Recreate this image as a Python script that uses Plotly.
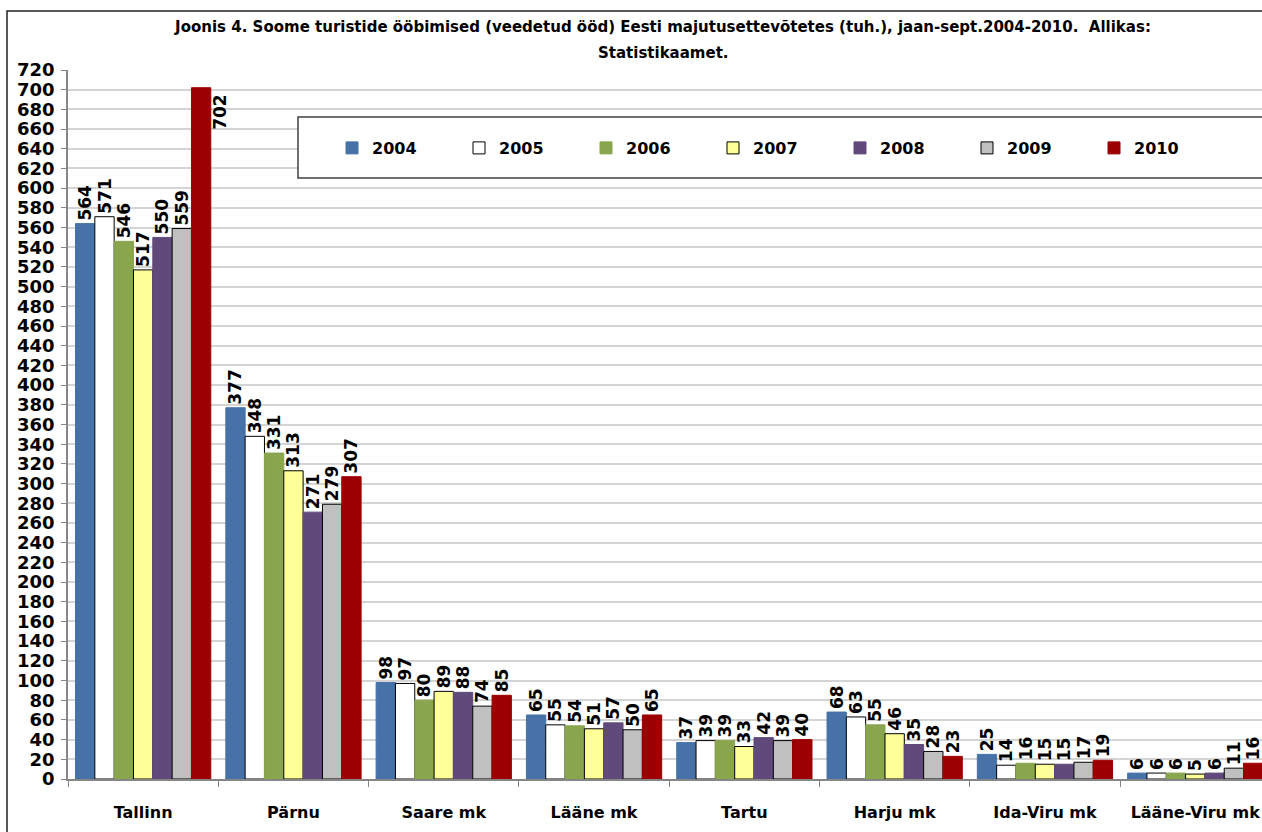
import plotly.graph_objects as go

categories = ["Tallinn", "Pärnu", "Saare mk", "Lääne mk", "Tartu", "Harju mk", "Ida-Viru mk", "Lääne-Viru mk"]
years = ["2004", "2005", "2006", "2007", "2008", "2009", "2010"]

v2004 = [564, 377, 98, 65, 37, 68, 25, 6]
v2005 = [571, 348, 97, 55, 39, 63, 14, 6]
v2006 = [546, 331, 80, 54, 39, 55, 16, 6]
v2007 = [517, 313, 89, 51, 33, 46, 15, 5]
v2008 = [550, 271, 88, 57, 42, 35, 15, 6]
v2009 = [559, 279, 74, 50, 39, 28, 17, 11]
v2010 = [702, 307, 85, 65, 40, 23, 19, 16]
series = [v2004, v2005, v2006, v2007, v2008, v2009, v2010]

fill_colors = ["#4672A8", "#FFFFFF", "#89A54E", "#FFFF99", "#604A7B", "#C0C0C0", "#9C0000"]
line_colors = ["#4672A8", "#000000", "#89A54E", "#000000", "#604A7B", "#000000", "#9C0000"]

title_line1 = "Joonis 4. Soome turistide ööbimised (veedetud ööd) Eesti majutusettevõtetes (tuh.), jaan-sept.2004-2010.  Allikas:"
title_line2 = "Statistikaamet."

FONT = "DejaVu Sans"
Y_MAX = 720

fig = go.Figure()
annotations = []
for yr, vals, fc, lc in zip(years, series, fill_colors, line_colors):
    positions = []
    for cat, v in zip(categories, vals):
        if v > Y_MAX - 30:
            positions.append("none")
            annotations.append(dict(
                x=cat, y=v, xref="x", yref="y", text=str(v), showarrow=False,
                textangle=-90, xanchor="center", yanchor="middle",
                xshift=77, yshift=-24,
                font=dict(family=FONT, size=17, color="black", weight="bold")))
        else:
            positions.append("outside")
    fig.add_trace(go.Bar(
        name=yr, x=categories, y=vals,
        marker=dict(color=fc, line=dict(color=lc, width=1)),
        text=[str(v) for v in vals], textposition=positions, textangle=-90,
        textfont=dict(family=FONT, size=17, color="black", weight="bold"),
        constraintext="none", cliponaxis=False,
    ))

annotations.append(dict(
    text=title_line2, xref="paper", yref="paper",
    x=(663 - 68) / 1194, y=(779 - 53) / 709, xanchor="center", yanchor="middle",
    showarrow=False, font=dict(family=FONT, size=15, color="black", weight="bold")))

fig.update_layout(
    width=1262, height=832,
    margin=dict(l=68, r=0, t=70, b=53),
    paper_bgcolor="white", plot_bgcolor="white",
    barmode="group", bargap=0.10, bargroupgap=0.0,
    title=dict(text=title_line1, x=663 / 1262, xref="container", xanchor="center",
               y=1 - 27 / 832, yref="container", yanchor="middle",
               font=dict(family=FONT, size=15, color="black", weight="bold")),
    legend=dict(orientation="h", x=(332 - 68) / 1194, xanchor="left",
                y=(779 - 148) / 709, yanchor="middle",
                entrywidth=82, entrywidthmode="pixels",
                font=dict(family=FONT, size=16, color="black", weight="bold"),
                bgcolor="rgba(0,0,0,0)", borderwidth=0),
    annotations=annotations,
    shapes=[
        dict(type="rect", xref="paper", yref="paper",
             x0=(298 - 68) / 1194, x1=1.05, y0=(779 - 178) / 709, y1=(779 - 117) / 709,
             line=dict(color="#404040", width=1.5), fillcolor="white", layer="above"),
        dict(type="rect", xref="paper", yref="paper",
             x0=(7 - 68) / 1194, x1=1.2, y0=-0.3, y1=(779 - 11) / 709,
             line=dict(color="#222222", width=1.5), fillcolor="rgba(0,0,0,0)", layer="below"),
    ],
    xaxis=dict(type="category", range=[-0.5, -0.5 + 1194 / 150.3],
               showline=True, linecolor="#868686", linewidth=1.5,
               ticks="outside", tickson="boundaries", ticklen=6, tickcolor="#868686",
               tickfont=dict(family=FONT, size=16, color="black", weight="bold"),
               ticklabelstandoff=18, showgrid=False),
    yaxis=dict(range=[0, Y_MAX], dtick=20, showline=True, linecolor="#868686", linewidth=1.5,
               ticks="outside", ticklen=5, tickcolor="#868686",
               gridcolor="#D4D4D4", gridwidth=1.5, zeroline=False,
               tickfont=dict(family=FONT, size=18, color="black", weight="bold"),
               ticklabelstandoff=3),
)

fig.write_html("out.html", config={"displayModeBar": False},
               post_script="document.body.style.margin='0';document.body.style.overflow='hidden';")
